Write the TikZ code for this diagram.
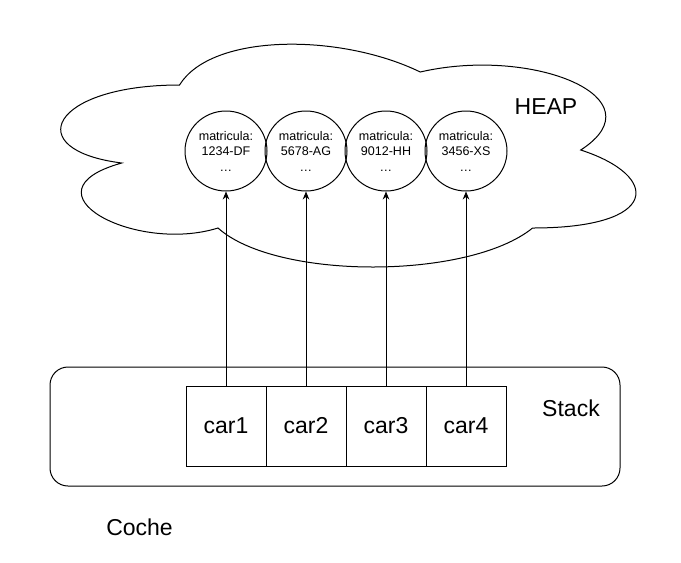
\documentclass[tikz,border=0pt]{standalone}
\usepackage{fontspec}
\setmainfont{Liberation Sans}
\usetikzlibrary{arrows.meta,shapes.geometric}

\begin{document}
\begin{tikzpicture}[x=.75pt,y=-.75pt,line width=.75pt,
	every node/.style={font=\fontsize{17.25}{20}\selectfont},
	carbox/.style={draw,minimum width=60pt,minimum height=60pt,inner sep=0},
	objcirc/.style={draw,ellipse,minimum width=61.5pt,minimum height=60pt,inner sep=0,align=center,
		font=\fontsize{9.4}{11.6}\selectfont},
	ref/.style={-{Stealth[length=6pt,width=5pt]}}]
	\useasboundingbox (0,0) rectangle (681,562);
	% heap cloud
	\begin{scope}[shift={(19,20)},xscale=642,yscale=260]
		\draw (.25,.25) .. controls (.05,.25) and (0,.5) .. (.16,.55)
		.. controls (0,.66) and (.18,.9) .. (.31,.8)
		.. controls (.4,1) and (.7,1) .. (.8,.8)
		.. controls (1,.8) and (1,.6) .. (.875,.5)
		.. controls (1,.3) and (.8,.1) .. (.625,.2)
		.. controls (.5,.05) and (.3,.05) .. (.25,.25) -- cycle;
	\end{scope}
	\node (heap) at (546,107) {HEAP};
	% stack frame
	\node[draw,rounded corners=13.5pt,minimum width=427.5pt,minimum height=89.25pt] (stack) at (335,426.5) {};
	\node (stacklbl) at (571,408) {Stack};
	\node (coche) at (139.5,527) {Coche};
	\foreach \i/\m in {1/1234-DF,2/5678-AG,3/9012-HH,4/3456-XS}{
		\node[carbox] (car\i) at (146+80*\i,426) {car\i};
		\node[objcirc] (obj\i) at (146+80*\i,151) {matricula:\\\m\\\ldots};
		\draw[ref] (car\i) -- (obj\i);
	}
\end{tikzpicture}
\end{document}
